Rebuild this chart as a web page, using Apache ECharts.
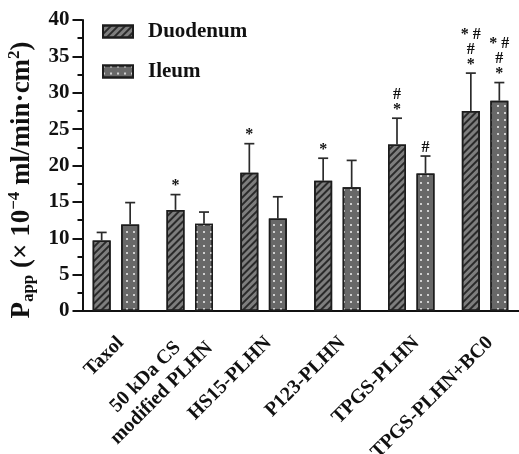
<!DOCTYPE html>
<html><head><meta charset="utf-8">
<script src="https://cdn.jsdelivr.net/npm/echarts@6/dist/echarts.min.js"></script>
<style>html,body{margin:0;padding:0;background:#fff}#c{width:519px;height:454px}</style>
</head><body><div id="c"></div>
<script>
const categories = ['Taxol', '50 kDa CS\nmodified PLHN', 'HS15-PLHN', 'P123-PLHN', 'TPGS-PLHN', 'TPGS-PLHN+BC0'];
const duodenum = [9.7, 13.9, 19.0, 17.9, 22.9, 27.5];
const duodenumErr = [1.1, 2.1, 4.0, 3.1, 3.6, 5.2];
const ileum = [11.9, 12.0, 12.7, 17.0, 18.9, 28.9];
const ileumErr = [3.0, 1.6, 3.0, 3.7, 2.4, 2.5];
const duodenumMarks = ['', '*', '*', '*', '#\n*', '* #\n#\n*'];
const ileumMarks = ['', '', '', '', '#', '* #\n#\n*'];
const yTicks = [0, 5, 10, 15, 20, 25, 30, 35, 40];

const FONT = '"Liberation Serif","Times New Roman",serif';
const BAR_W = 18, BAR_GAP = 10.5;
const SHIFT = (BAR_W + BAR_GAP) / 2;

const chart = echarts.init(document.getElementById('c'), null, {renderer: 'canvas'});

function errSeries(name, vals, errs, marks, dir) {
  return {
    type: 'custom', name: name + ' err', z: 3, silent: true,
    data: vals.map((v, i) => [i, v, errs[i]]),
    encode: {x: 0, y: 1},
    renderItem(params, api) {
      const i = api.value(0), v = api.value(1), e = api.value(2);
      const mark = marks[params.dataIndex];
      const base = api.coord([i, v]);
      const top = api.coord([i, v + e]);
      const x = base[0] + dir * SHIFT;
      const st = {stroke: '#2b2b2b', lineWidth: 1.7};
      const children = [
        {type: 'line', shape: {x1: x, y1: base[1], x2: x, y2: top[1]}, style: st},
        {type: 'line', shape: {x1: x - 5, y1: top[1], x2: x + 5, y2: top[1]}, style: st}
      ];
      if (mark) children.push({type: 'text', style: {
        text: mark, x: x, y: top[1] - 1, align: 'center', verticalAlign: 'bottom',
        font: 'bold 16px ' + FONT, lineHeight: 15, fill: '#111'}});
      return {type: 'group', children};
    }
  };
}

const lbl = {fontFamily: FONT, fontWeight: 'bold', color: '#111'};

const xData = categories.map(c => c.indexOf('\n') >= 0
  ? {value: c, textStyle: {verticalAlign: 'middle', padding: [34, 0, 0, 0]}}
  : c);

chart.setOption({
  animation: false,
  backgroundColor: '#fff',
  grid: {left: 79, right: -3, top: 20, bottom: 143, containLabel: false, outerBoundsMode: 'none'},
  legend: {
    data: ['Duodenum', 'Ileum'], orient: 'vertical', left: 102, top: 21,
    itemWidth: 30, itemHeight: 12, itemGap: 19, padding: 0, icon: 'rect',
    textStyle: Object.assign({fontSize: 21, padding: [0, 0, 0, 10]}, lbl)
  },
  xAxis: {
    type: 'category', data: xData,
    axisLine: {lineStyle: {color: '#111', width: 2}},
    axisTick: {alignWithLabel: true, length: 10, lineStyle: {color: '#111', width: 2}},
    axisLabel: Object.assign({
      interval: 0, rotate: 45, margin: 14, fontSize: 20, verticalAlign: 'top', padding: [4, 7, 0, 0],
      formatter: v => v.indexOf('\n') >= 0 ? v.split('\n').map(s => '{c|' + s + '}').join('\n') : v,
      rich: {c: Object.assign({fontSize: 20, align: 'center', lineHeight: 23}, lbl)}
    }, lbl)
  },
  yAxis: {
    type: 'value', min: 0, max: 40, interval: 5, offset: -3.5,
    axisLine: {show: true, lineStyle: {color: '#111', width: 2}},
    axisTick: {show: true, length: 10, lineStyle: {color: '#111', width: 2}},
    minorTick: {show: true, splitNumber: 2, length: 5, lineStyle: {color: '#111', width: 2}},
    splitLine: {show: false},
    axisLabel: Object.assign({fontSize: 21, margin: 13, formatter: v => yTicks.indexOf(v) >= 0 ? String(v) : ''}, lbl),
    name: '{i|P}{sub|app}{i| (× 10}{sup|−4}{i| ml/min·cm}{sup|2}{i|)}',
    nameLocation: 'middle', nameRotate: 90, nameGap: 44,
    nameTextStyle: {
      padding: [0, 29, 0, 0],
      rich: {
        i: Object.assign({fontSize: 27, lineHeight: 31}, lbl),
        sub: Object.assign({fontSize: 17, verticalAlign: 'bottom'}, lbl),
        sup: Object.assign({fontSize: 17, verticalAlign: 'top'}, lbl)
      }
    }
  },
  series: [
    {
      type: 'bar', name: 'Duodenum', data: duodenum, barWidth: BAR_W, barGap: (BAR_GAP / BAR_W * 100) + '%',
      itemStyle: {color: '#7e7e7e', borderColor: '#1c1c1c', borderWidth: 1.5,
        decal: {symbol: 'rect', symbolSize: 1, dashArrayX: [1, 0], dashArrayY: [1.4, 2.4], rotation: -Math.PI / 4, color: '#2a2a2a'}}
    },
    {
      type: 'bar', name: 'Ileum', data: ileum, barWidth: BAR_W,
      itemStyle: {color: '#686868', borderColor: '#1c1c1c', borderWidth: 1.5,
        decal: {symbol: 'rect', symbolSize: 1, dashArrayX: [1.5, 4.3], dashArrayY: [1.5, 4.5], color: '#cfcfcf'}}
    },
    errSeries('Duodenum', duodenum, duodenumErr, duodenumMarks, -1),
    errSeries('Ileum', ileum, ileumErr, ileumMarks, 1)
  ]
});
</script></body></html>
